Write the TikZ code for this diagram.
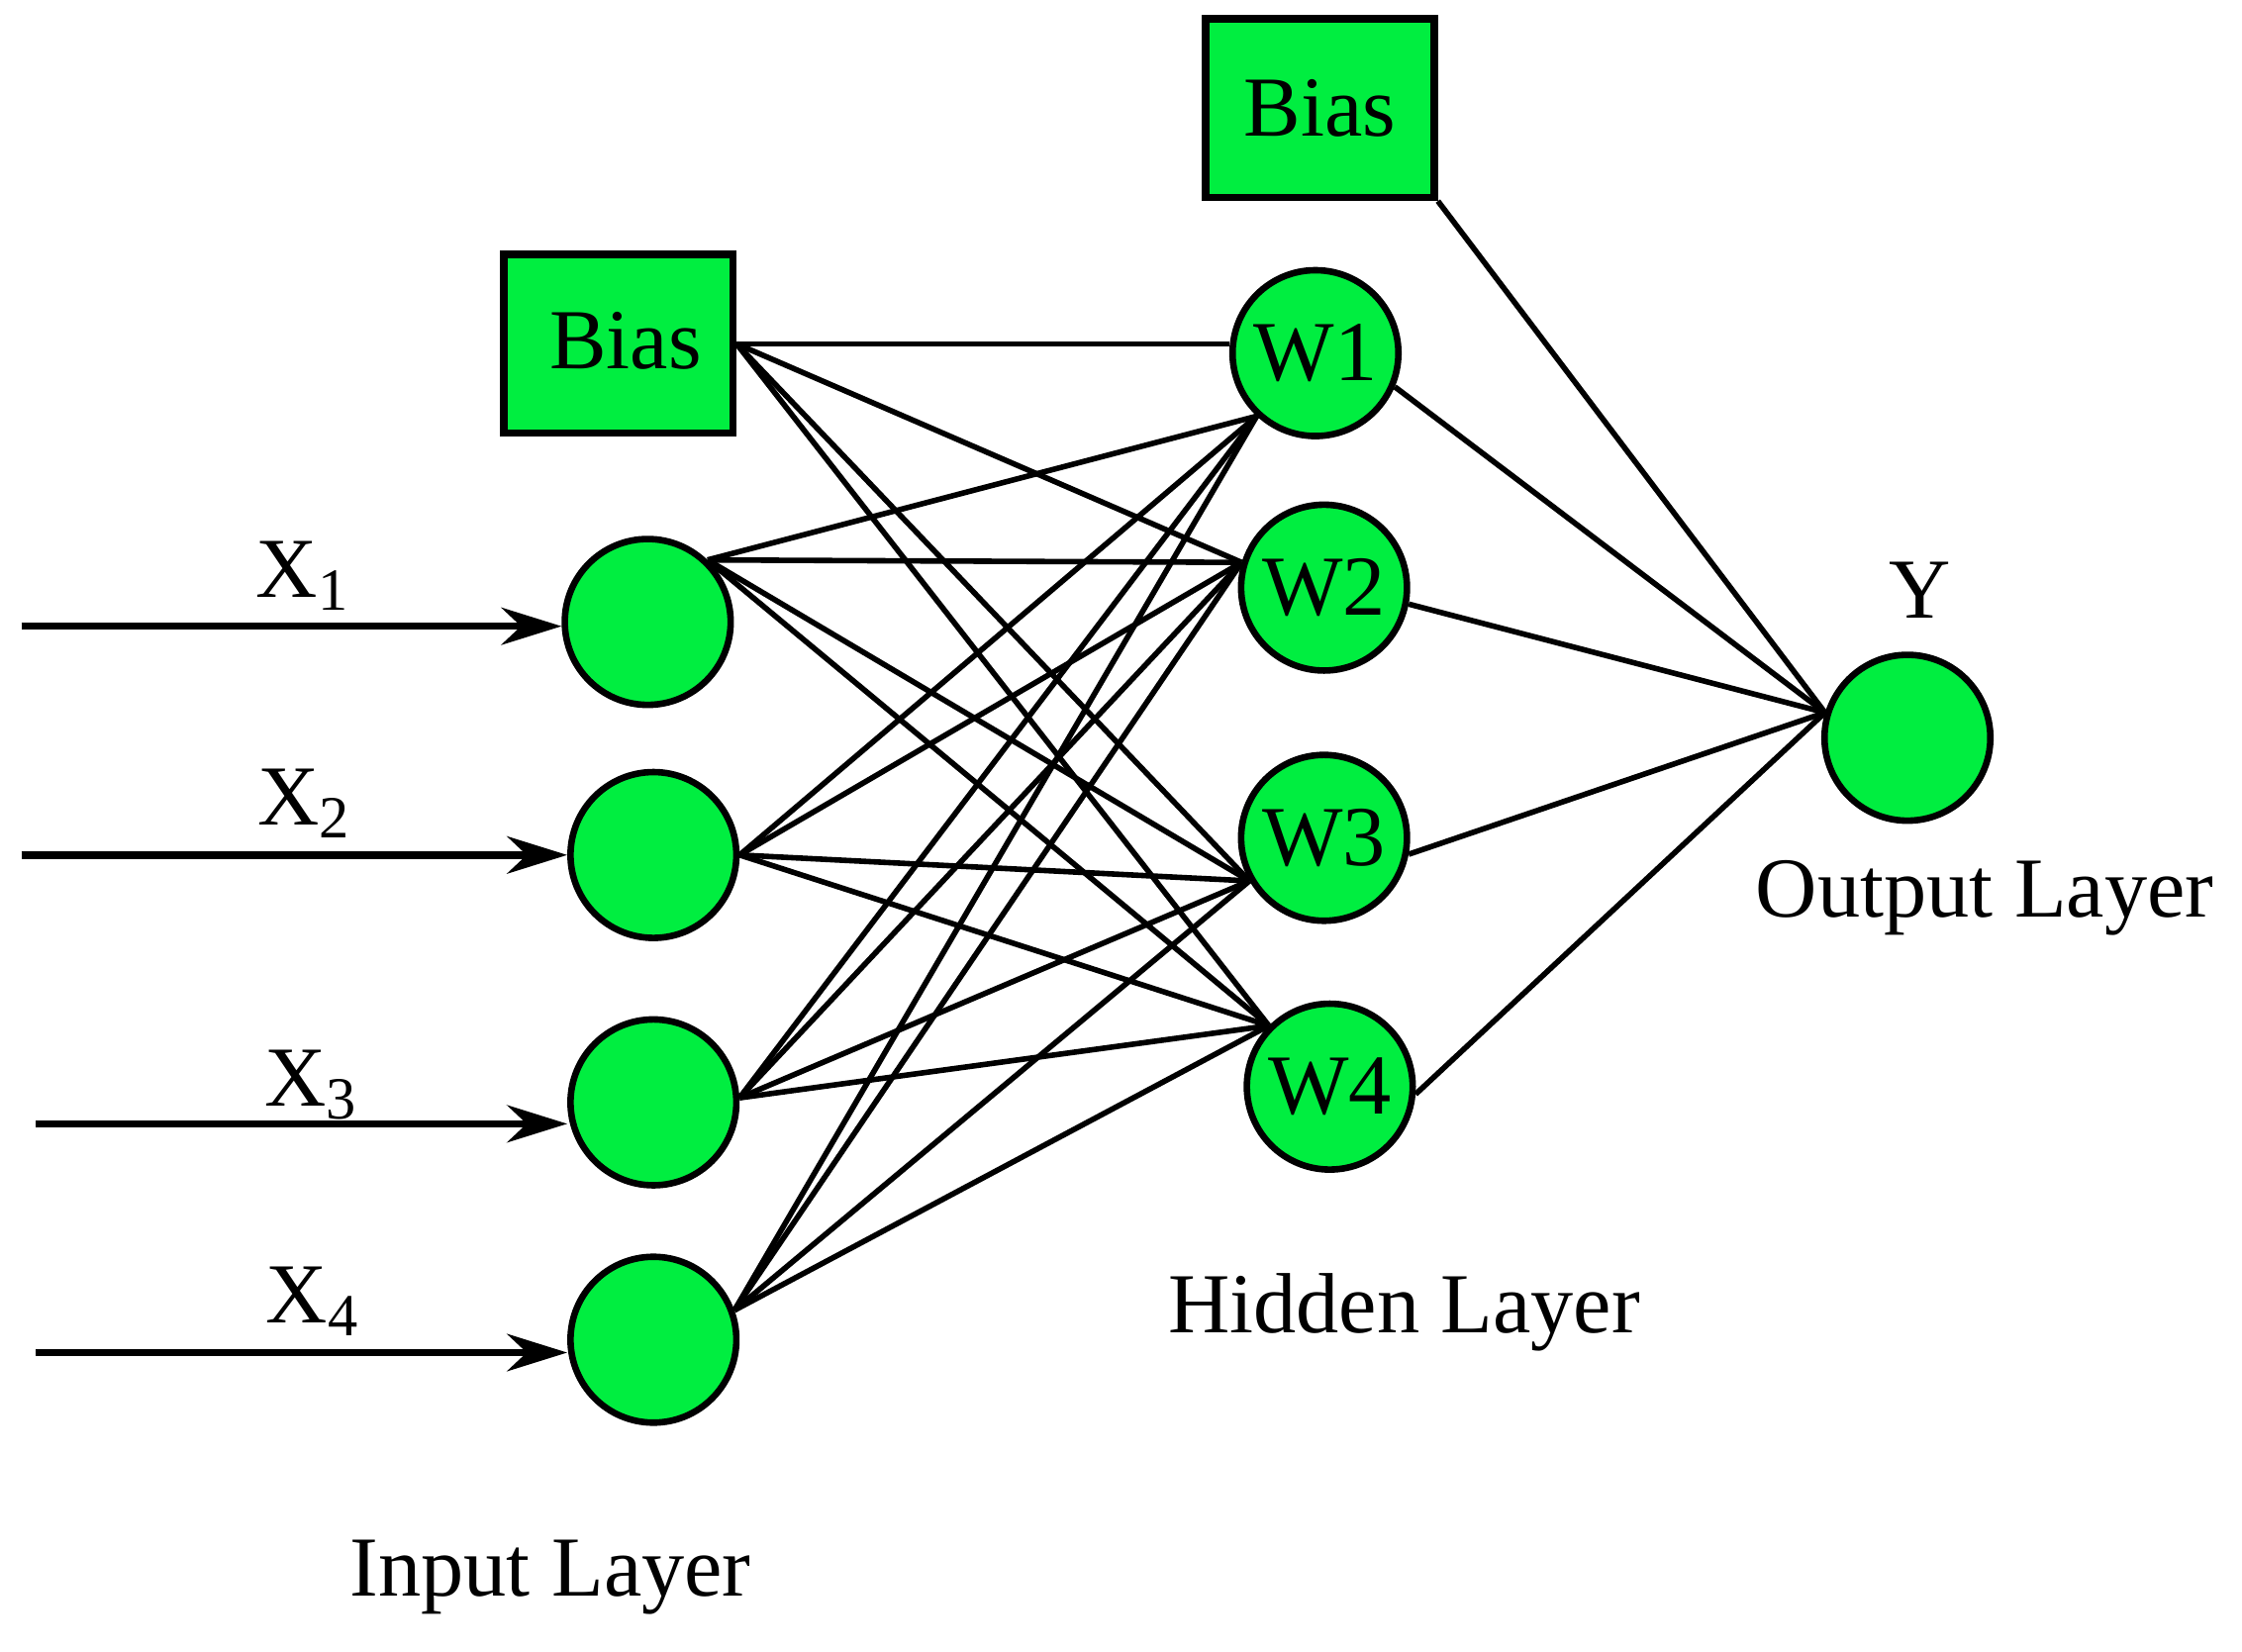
\documentclass[tikz,border=0pt]{standalone}
\usepackage{fontspec}
\setmainfont{Liberation Serif}
\usetikzlibrary{arrows.meta, positioning, backgrounds}
\definecolor{nodegreen}{RGB}{0,238,64}
\tikzstyle{neuron} = [circle, minimum size=1.16cm, inner sep=0pt, text centered, draw=black, line width=1.3pt, fill=nodegreen]
\tikzstyle{biasbox} = [rectangle, minimum width=1.6cm, minimum height=1.25cm, text centered, draw=black, line width=1.5pt, fill=nodegreen]
\tikzstyle{arrow} = [line width=1.5pt, -{Stealth[length=4.2mm, width=2.6mm]}]
\tikzstyle{line} = [-, line width=1.1pt]

\begin{document}
\begin{tikzpicture}[font=\fontsize{17}{20}\selectfont, background rectangle/.style={fill=white}, show background rectangle]

    \useasboundingbox (0, 0) rectangle (15.68, 11.55);

    \node (in1) [neuron] at (4.53, 7.20) {};
    \node (in2) [neuron] at (4.57, 5.57) {};
    \node (in3) [neuron] at (4.57, 3.84) {};
    \node (in4) [neuron] at (4.57, 2.18) {};
    \node (bias1) [biasbox] at (4.325, 9.145) {\raisebox{0.5mm}{\hspace{1mm}Bias}};
    \node (bias2) [biasbox] at (9.23, 10.795) {Bias};
    \node (w1) [neuron] at (9.20, 9.08) {W1};
    \node (w2) [neuron] at (9.26, 7.44) {W2};
    \node (w3) [neuron] at (9.26, 5.69) {W3};
    \node (w4) [neuron] at (9.30, 3.95) {W4};
    \node (out) [neuron] at (13.34, 6.39) {};

    \coordinate (s1) at (0.15, 7.17);
    \coordinate (s2) at (0.15, 5.57);
    \coordinate (s3) at (0.25, 3.69);
    \coordinate (s4) at (0.25, 2.09);
    \node (x1) at (2.12, 7.52) {X\textsubscript{1}};
    \node (x2) at (2.13, 5.93) {X\textsubscript{2}};
    \node (x3) at (2.18, 3.96) {X\textsubscript{3}};
    \node (x4) at (2.19, 2.45) {X\textsubscript{4}};
    \node (ylab) at (13.43, 7.42) {Y};
    \node (outlab) at (13.88, 5.27) {Output Layer};
    \node (hidlab) at (9.82, 2.37) {Hidden Layer};
    \node (inlab) at (3.85, 0.52) {Input Layer};

    \draw [arrow] (s1) -- (s1 -| in1.west);
    \draw [arrow] (s2) -- (s2 -| in2.west);
    \draw [arrow] (s3) -- (s3 -| in3.west);
    \draw [arrow] (s4) -- (s4 -| in4.west);

    \draw [line] (in1.46) -- (w1.227);
    \draw [line] (in1.46) -- (w2.163);
    \draw [line] (in1.46) -- (w3.210);
    \draw [line] (in1.46) -- (w4.135);
    \draw [line] (in2.0) -- (w1.227);
    \draw [line] (in2.0) -- (w2.163);
    \draw [line] (in2.0) -- (w3.210);
    \draw [line] (in2.0) -- (w4.135);
    \draw [line] (in3.3) -- (w1.227);
    \draw [line] (in3.3) -- (w2.163);
    \draw [line] (in3.3) -- (w3.210);
    \draw [line] (in3.3) -- (w4.135);
    \draw [line] (in4.20) -- (w1.227);
    \draw [line] (in4.20) -- (w2.163);
    \draw [line] (in4.20) -- (w3.210);
    \draw [line] (in4.20) -- (w4.135);

    \draw [line] (bias1.east) -- (bias1.east -| w1.west);
    \draw [line] (bias1.east) -- (w2.163);
    \draw [line] (bias1.east) -- (w3.210);
    \draw [line] (bias1.east) -- (w4.135);

    \draw [line] (w1.337) -- (out.163);
    \draw [line] (w2.349) -- (out.163);
    \draw [line] (w3.349) -- (out.163);
    \draw [line] (w4.355) -- (out.163);
    \draw [line] (bias2.south east) -- (out.163);

\end{tikzpicture}
\end{document}
